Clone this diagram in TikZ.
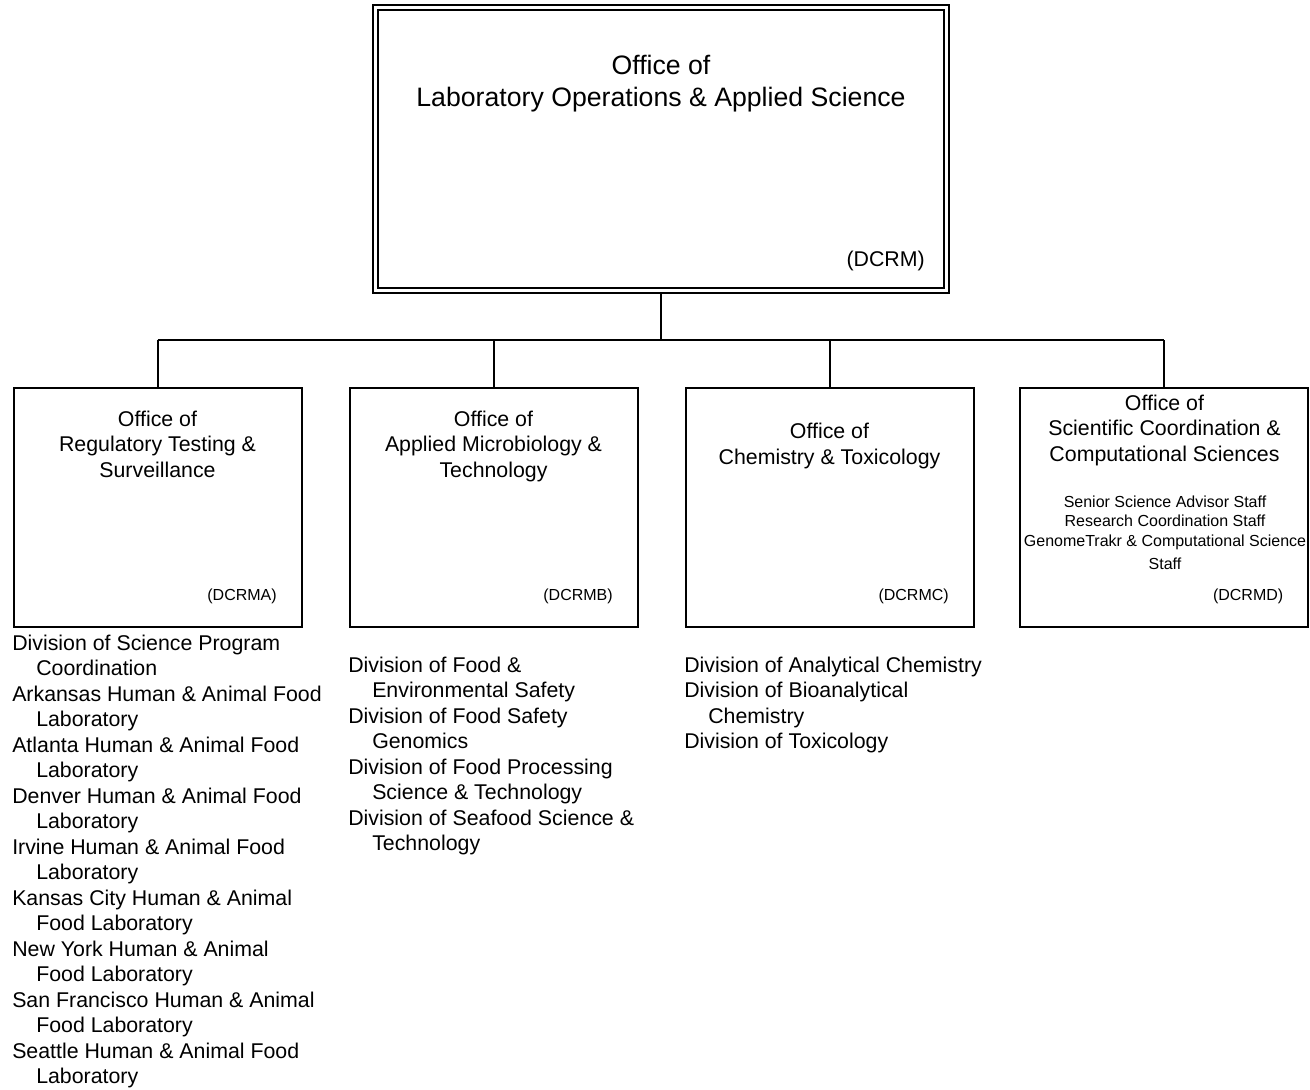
\documentclass[tikz,border=0pt]{standalone}
\usepackage{fontspec}
\setmainfont{Liberation Sans}
\usetikzlibrary{backgrounds}
\newcommand\ftitle{\fontsize{20}{24}\selectfont}
\newcommand\fmid{\fontsize{16}{19.2}\selectfont}
\newcommand\fsmall{\fontsize{12}{14.4}\selectfont}
\begin{document}
\begin{tikzpicture}[x=0.75pt,y=-0.75pt,
  box/.style={draw,line width=1.5pt,fill=white,minimum width=216pt,minimum height=179.25pt,inner sep=0pt},
  topbox/.style={draw,line width=1.5pt,double=white,double distance=2.25pt,minimum width=428.25pt,minimum height=212.25pt,inner sep=0pt},
  conn/.style={line width=1.5pt},
  ttl/.style={inner sep=0pt,anchor=base,font=\ftitle},
  mid/.style={inner sep=0pt,anchor=base,font=\fmid},
  sml/.style={inner sep=0pt,anchor=base,font=\fsmall},
  code/.style={inner sep=0pt,anchor=base east,font=\fsmall},
  item/.style={inner sep=0pt,anchor=base west,font=\fmid}]
\useasboundingbox (0,0) rectangle (1310,1089);

% top box
\node[topbox] (top) at (660.5,148.5) {};
\node[ttl] (t1) at (661,74) {Office of};
\node[ttl] (t2) at (661,106) {Laboratory Operations \& Applied Science};
\node[inner sep=0pt,anchor=base east,font=\fmid] (t3) at (925,266) {(DCRM)};

% child boxes
\node[box] (b1) at (157.5,507.5) {};
\node[box] (b2) at (493.5,507.5) {};
\node[box] (b3) at (829.5,507.5) {};
\node[box] (b4) at (1164,507.5) {};

% connectors
\coordinate (bus) at (660.5,340);
\begin{scope}[on background layer]
\draw[conn] (top.south) -- (bus);
\draw[conn] (b1.north |- bus) -- (b4.north |- bus);
\foreach \i in {1,2,3,4}
  \draw[conn] (b\i.north) -- (b\i.north |- bus);
\end{scope}

% box 1 text
\node[mid] (h11) at (157.5,426) {Office of};
\node[mid] (h12) at (157.5,451.5) {Regulatory Testing \&};
\node[mid] (h13) at (157.5,477) {Surveillance};
\node[code] (c1) at (277,600) {(DCRMA)};

% box 2 text
\node[mid] (h21) at (493.5,426) {Office of};
\node[mid] (h22) at (493.5,451.5) {Applied Microbiology \&};
\node[mid] (h23) at (493.5,477) {Technology};
\node[code] (c2) at (613,600) {(DCRMB)};

% box 3 text
\node[mid] (h31) at (829.5,438.5) {Office of};
\node[mid] (h32) at (829.5,464) {Chemistry \& Toxicology};
\node[code] (c3) at (949,600) {(DCRMC)};

% box 4 text
\node[mid] (h41) at (1164.5,410) {Office of};
\node[mid] (h42) at (1164.5,435.5) {Scientific Coordination \&};
\node[mid] (h43) at (1164.5,461) {Computational Sciences};
\node[sml] (s41) at (1165,507) {Senior Science Advisor Staff};
\node[sml] (s42) at (1165,526.5) {Research Coordination Staff};
\node[sml] (s43) at (1165,546) {GenomeTrakr \& Computational Science};
\node[sml] (s44) at (1165,569) {Staff};
\node[code] (c4) at (1283.5,600) {(DCRMD)};

% lists
\foreach \ind/\t [count=\i from 0] in {
  0/Division of Science Program,
  1/Coordination,
  0/Arkansas Human \& Animal Food,
  1/Laboratory,
  0/Atlanta Human \& Animal Food,
  1/Laboratory,
  0/Denver Human \& Animal Food,
  1/Laboratory,
  0/Irvine Human \& Animal Food,
  1/Laboratory,
  0/Kansas City Human \& Animal,
  1/Food Laboratory,
  0/New York Human \& Animal,
  1/Food Laboratory,
  0/San Francisco Human \& Animal,
  1/Food Laboratory,
  0/Seattle Human \& Animal Food,
  1/Laboratory}
  \node[item] (l1-\i) at (12+\ind*24,650+\i*25.5) {\t};

\foreach \ind/\t [count=\i from 0] in {
  0/Division of Food \&,
  1/Environmental Safety,
  0/Division of Food Safety,
  1/Genomics,
  0/Division of Food Processing,
  1/Science \& Technology,
  0/Division of Seafood Science \&,
  1/Technology}
  \node[item] (l2-\i) at (348+\ind*24,672+\i*25.5) {\t};

\foreach \ind/\t [count=\i from 0] in {
  0/Division of Analytical Chemistry,
  0/Division of Bioanalytical,
  1/Chemistry,
  0/Division of Toxicology}
  \node[item] (l3-\i) at (684+\ind*24,672+\i*25.5) {\t};
\end{tikzpicture}
\end{document}
